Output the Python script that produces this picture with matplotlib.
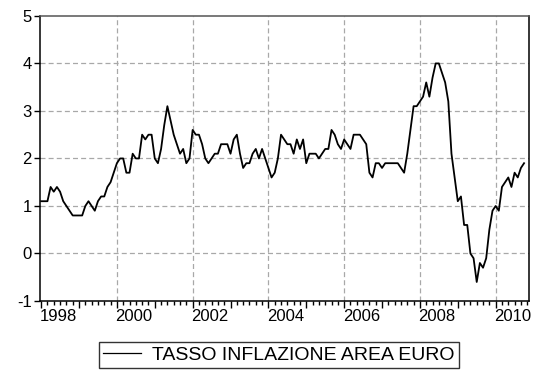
import numpy as np
import matplotlib
matplotlib.use('Agg')
import matplotlib.pyplot as plt
from matplotlib.ticker import MultipleLocator, FixedLocator

plt.rcParams['font.family'] = ['Liberation Sans', 'DejaVu Sans']

# euro area inflation, monthly, Jan 1998 - Oct 2010 (percent)
infl_1998 = [1.1, 1.1, 1.1, 1.4, 1.3, 1.4, 1.3, 1.1, 1.0, 0.9, 0.8, 0.8]
infl_1999 = [0.8, 0.8, 1.0, 1.1, 1.0, 0.9, 1.1, 1.2, 1.2, 1.4, 1.5, 1.7]
infl_2000 = [1.9, 2.0, 2.0, 1.7, 1.7, 2.1, 2.0, 2.0, 2.5, 2.4, 2.5, 2.5]
infl_2001 = [2.0, 1.9, 2.2, 2.7, 3.1, 2.8, 2.5, 2.3, 2.1, 2.2, 1.9, 2.0]
infl_2002 = [2.6, 2.5, 2.5, 2.3, 2.0, 1.9, 2.0, 2.1, 2.1, 2.3, 2.3, 2.3]
infl_2003 = [2.1, 2.4, 2.5, 2.1, 1.8, 1.9, 1.9, 2.1, 2.2, 2.0, 2.2, 2.0]
infl_2004 = [1.8, 1.6, 1.7, 2.0, 2.5, 2.4, 2.3, 2.3, 2.1, 2.4, 2.2, 2.4]
infl_2005 = [1.9, 2.1, 2.1, 2.1, 2.0, 2.1, 2.2, 2.2, 2.6, 2.5, 2.3, 2.2]
infl_2006 = [2.4, 2.3, 2.2, 2.5, 2.5, 2.5, 2.4, 2.3, 1.7, 1.6, 1.9, 1.9]
infl_2007 = [1.8, 1.9, 1.9, 1.9, 1.9, 1.9, 1.8, 1.7, 2.1, 2.6, 3.1, 3.1]
infl_2008 = [3.2, 3.3, 3.6, 3.3, 3.7, 4.0, 4.0, 3.8, 3.6, 3.2, 2.1, 1.6]
infl_2009 = [1.1, 1.2, 0.6, 0.6, 0.0, -0.1, -0.6, -0.2, -0.3, -0.1, 0.5, 0.9]
infl_2010 = [1.0, 0.9, 1.4, 1.5, 1.6, 1.4, 1.7, 1.6, 1.8, 1.9]

series = (infl_1998 + infl_1999 + infl_2000 + infl_2001 + infl_2002 + infl_2003
          + infl_2004 + infl_2005 + infl_2006 + infl_2007 + infl_2008
          + infl_2009 + infl_2010)
t = 1998 + np.arange(len(series)) / 12.0

year_labels = ['1998', '2000', '2002', '2004', '2006', '2008', '2010']
y_ticks = [-1, 0, 1, 2, 3, 4, 5]

fig = plt.figure(figsize=(5.42, 3.70), dpi=100)
ax = fig.add_axes([0.0738, 0.1865, 0.9022, 0.7705])

grid_kw = dict(color='#a8a8a8', linestyle=(0, (4, 2.5)), linewidth=0.9, zorder=1)
for y in y_ticks[1:-1]:
    ax.axhline(y, **grid_kw)
for yr in year_labels[1:]:
    ax.axvline(int(yr), **grid_kw)

ax.plot(t, series, color='black', linewidth=1.3, zorder=3)

ax.set_xlim(1997.97, 2010.88)
ax.set_ylim(-1, 5)

ax.yaxis.set_major_locator(FixedLocator(y_ticks))
ax.set_yticklabels(['-1' if v == -1 else str(v) for v in y_ticks])
ax.xaxis.set_major_locator(MultipleLocator(1))
ax.xaxis.set_minor_locator(MultipleLocator(1 / 6))
ax.set_xticklabels([])
# year labels sit just right of the year-start tick
for yr in year_labels:
    ax.text(int(yr) + 0.45, -1.16, yr, ha='center', va='top', fontsize=12)

ax.tick_params(axis='y', direction='out', length=4, width=1, labelsize=12, pad=2)
ax.tick_params(axis='x', which='major', direction='out', length=5, width=1)
ax.tick_params(axis='x', which='minor', direction='out', length=3, width=1)
ax.xaxis.set_ticks_position('bottom')

for side in ['left', 'bottom', 'right']:
    ax.spines[side].set_color('black')
    ax.spines[side].set_linewidth(1.1)
ax.spines['top'].set_color('#555555')
ax.spines['top'].set_linewidth(1.1)

line_handle, = ax.plot([], [], color='black', linewidth=0.9)
fig.legend([line_handle], ['TASSO INFLAZIONE AREA EURO'], loc='center',
           bbox_to_anchor=(0.514, 0.0405), frameon=True, fancybox=False,
           edgecolor='black', fontsize=14, handlelength=2.0, handletextpad=0.55,
           borderpad=0.2, borderaxespad=0)

fig.savefig('out.png', dpi=100)
